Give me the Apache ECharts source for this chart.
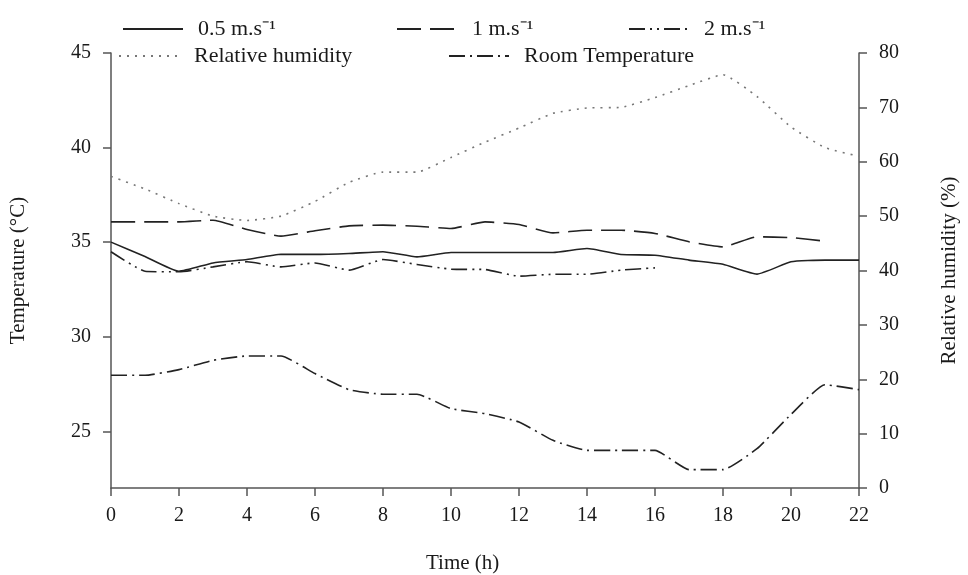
<!DOCTYPE html>
<html>
<head>
<meta charset="utf-8">
<script src="https://cdn.jsdelivr.net/npm/echarts@6/dist/echarts.min.js"></script>
<style>
  html, body { margin: 0; padding: 0; background: #fff; }
  #chart { width: 968px; height: 575px; }
</style>
</head>
<body>
<div id="chart"></div>
<script>
// hours 0..22
const hours = [0, 1, 2, 3, 4, 5, 6, 7, 8, 9, 10, 11, 12, 13, 14, 15, 16, 17, 18, 19, 20, 21, 22];

// temperature (°C) at each air speed
const speed05 = [35.0, 34.24, 33.46, 33.9, 34.08, 34.36, 34.35, 34.4, 34.49, 34.22, 34.45, 34.45,
  34.45, 34.45, 34.66, 34.35, 34.31, 34.05, 33.83, 33.31, 33.96, 34.05, 34.05];
const speed1 = [36.07, 36.07, 36.07, 36.16, 35.67, 35.32, 35.6, 35.86, 35.9, 35.84, 35.72, 36.07,
  35.93, 35.49, 35.63, 35.63, 35.46, 35.02, 34.75, 35.28, 35.24, 35.05];
const speed2 = [34.49, 33.46, 33.43, 33.69, 33.96, 33.69, 33.9, 33.52, 34.08, 33.82, 33.57, 33.55,
  33.2, 33.3, 33.3, 33.52, 33.64];
const roomTemp = [27.96, 27.96, 28.26, 28.75, 28.98, 28.98, 28.05, 27.2, 26.96, 26.96, 26.2, 25.93,
  25.49, 24.52, 23.99, 23.99, 23.99, 22.97, 22.97, 24.08, 25.89, 27.46, 27.2];

// relative humidity (%)
const humidity = [57.3, 55.0, 52.3, 50.0, 49.2, 50.0, 52.7, 56.2, 58.1, 58.1, 60.8, 63.6,
  66.2, 68.9, 69.9, 70.0, 71.8, 74.0, 76.0, 72.0, 66.4, 62.6, 61.0];

const tempTicks = [25, 30, 35, 40, 45];

const names = ['0.5 m.s⁻¹', '1 m.s⁻¹', '2 m.s⁻¹', 'Relative humidity', 'Room Temperature'];

function pairs(vals) {
  return vals.map((v, i) => [hours[i], v]);
}

const font = 'Liberation Serif';
const ink = '#1a1a1a';

let myChart = echarts.init(document.getElementById('chart'));

function legendItem(name, left, top) {
  return {
    data: [name],
    left: left,
    top: top,
    padding: 0,
    itemWidth: 60,
    itemHeight: 14,
    // hide the marker circle, keep only the line sample
    itemStyle: { opacity: 0, color: 'transparent', borderColor: 'transparent' },
    textStyle: { fontFamily: font, fontSize: 22, color: ink, padding: [0, 0, 0, 10] }
  };
}

let option = {
  animation: false,
  backgroundColor: '#fff',
  textStyle: { fontFamily: font },
  title: {
    text: 'Time (h)',
    left: 426,
    top: 553,
    padding: 0,
    textStyle: { fontFamily: font, fontSize: 21, fontWeight: 'normal', color: ink }
  },
  legend: [
    legendItem(names[0], 122, 18),
    legendItem(names[1], 396, 18),
    legendItem(names[2], 628, 18),
    legendItem(names[3], 118, 45),
    legendItem(names[4], 448, 45)
  ],
  grid: { left: 105, right: 100, top: 53, bottom: 87 },
  xAxis: {
    type: 'value',
    min: 0,
    max: 22,
    interval: 2,
    axisLine: { lineStyle: { color: '#555', width: 1.5 } },
    axisTick: { length: 8, lineStyle: { color: '#555', width: 1.5 } },
    axisLabel: { fontFamily: font, fontSize: 20, color: ink, margin: 18 },
    splitLine: { show: false }
  },
  yAxis: [
    {
      type: 'value',
      min: 22,
      max: 45,
      name: 'Temperature (°C)',
      nameLocation: 'middle',
      nameRotate: 90,
      nameGap: 82,
      nameTextStyle: { fontFamily: font, fontSize: 21, color: ink },
      axisLine: { show: true, lineStyle: { color: '#555', width: 1.5 } },
      axisTick: { show: true, length: 8, customValues: tempTicks, lineStyle: { color: '#555', width: 1.5 } },
      axisLabel: { fontFamily: font, fontSize: 20, color: ink, margin: 20, customValues: tempTicks },
      splitLine: { show: false }
    },
    {
      type: 'value',
      min: 0,
      max: 80,
      interval: 10,
      position: 'right',
      name: 'Relative humidity (%)',
      nameLocation: 'middle',
      nameRotate: 90,
      nameGap: 80,
      nameTextStyle: { fontFamily: font, fontSize: 21, color: ink },
      axisLine: { show: true, lineStyle: { color: '#555', width: 1.5 } },
      axisTick: { show: true, length: 8, lineStyle: { color: '#555', width: 1.5 } },
      axisLabel: { fontFamily: font, fontSize: 20, color: ink, margin: 20 },
      splitLine: { show: false }
    }
  ],
  series: [
    {
      name: names[0],
      type: 'line',
      data: pairs(speed05),
      symbol: 'none',
      smooth: 0.15,
      lineStyle: { color: '#222', width: 1.6, type: 'solid' },
      itemStyle: { color: '#222' }
    },
    {
      name: names[1],
      type: 'line',
      data: pairs(speed1),
      symbol: 'none',
      smooth: 0.15,
      lineStyle: { color: '#222', width: 1.6, type: [24, 9] },
      itemStyle: { color: '#222' }
    },
    {
      name: names[2],
      type: 'line',
      data: pairs(speed2),
      symbol: 'none',
      smooth: 0.15,
      lineStyle: { color: '#222', width: 1.6, type: [16, 5, 2, 5, 2, 5] },
      itemStyle: { color: '#222' }
    },
    {
      name: names[3],
      type: 'line',
      yAxisIndex: 1,
      data: pairs(humidity),
      symbol: 'none',
      smooth: 0.15,
      lineStyle: { color: '#777', width: 1.6, type: [2, 6] },
      itemStyle: { color: '#777' }
    },
    {
      name: names[4],
      type: 'line',
      data: pairs(roomTemp),
      symbol: 'none',
      smooth: 0.15,
      lineStyle: { color: '#222', width: 1.6, type: [16, 5, 2, 5] },
      itemStyle: { color: '#222' }
    }
  ]
};

myChart.setOption(option);
window.addEventListener('resize', function () {
  myChart.resize();
});
</script>
</body>
</html>
